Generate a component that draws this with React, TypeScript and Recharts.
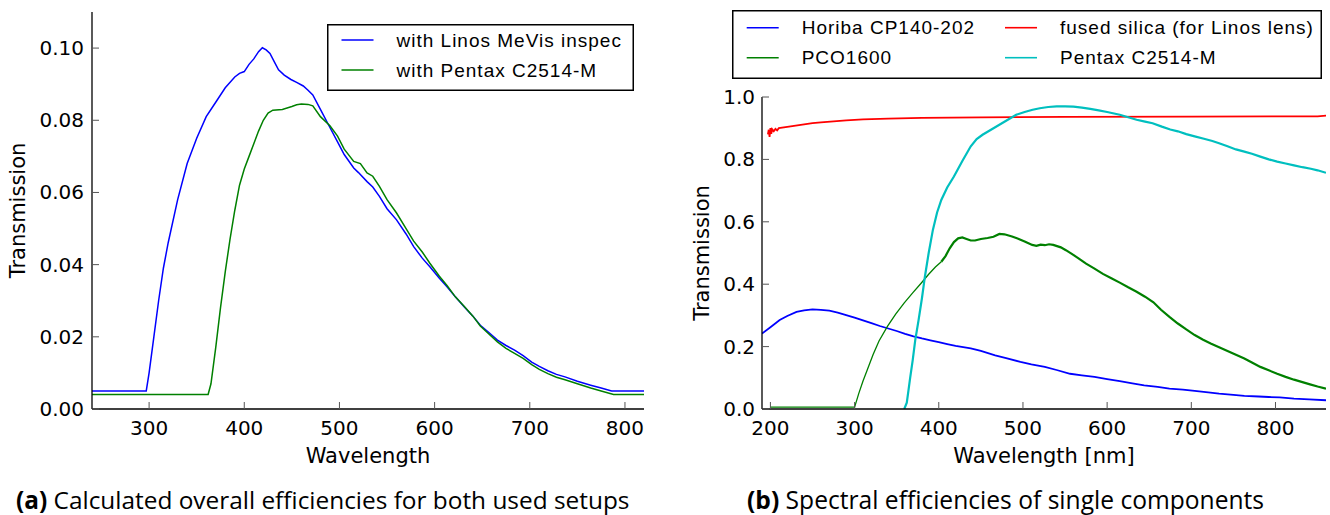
import React from 'react';
import { LineChart, Line, XAxis, YAxis, Legend } from 'recharts';

// ---------- tick labels ----------
const leftXTicks = [300, 400, 500, 600, 700, 800];
const leftYTicks = [0, 0.02, 0.04, 0.06, 0.08, 0.1];
const rightXTicks = [200, 300, 400, 500, 600, 700, 800];
const rightYTicks = [0, 0.2, 0.4, 0.6, 0.8, 1.0];

// ---------- (a) overall efficiencies ----------
const linosWl = [240, 297, 300, 305, 310, 315, 320, 330, 340, 350, 360, 370, 380, 390, 395, 400, 405, 410, 415, 419, 423, 427, 432, 436, 442, 449, 455, 462, 467, 472, 480, 490, 498, 505, 515, 520, 529, 535, 542, 550, 560, 570, 578, 587, 595, 605, 613, 622, 631, 640, 648, 657, 666, 675, 684, 693, 702, 710, 719, 728, 737, 750, 764, 775, 786, 820];
const linosT = [0.005, 0.005, 0.01, 0.02, 0.03, 0.039, 0.046, 0.058, 0.068, 0.075, 0.081, 0.085, 0.089, 0.092, 0.093, 0.0935, 0.0955, 0.097, 0.099, 0.1001, 0.0995, 0.0985, 0.096, 0.094, 0.0925, 0.0913, 0.0905, 0.0895, 0.0883, 0.087, 0.083, 0.078, 0.074, 0.0705, 0.0668, 0.0655, 0.063, 0.0615, 0.0589, 0.0555, 0.0524, 0.0485, 0.045, 0.0418, 0.0394, 0.0362, 0.0339, 0.031, 0.0283, 0.0258, 0.0232, 0.0212, 0.0191, 0.0176, 0.0163, 0.0148, 0.013, 0.0118, 0.0106, 0.0096, 0.0089, 0.0077, 0.0066, 0.0058, 0.005, 0.005];

const pentaxSetupWl = [240, 362, 365, 370, 375, 380, 385, 390, 395, 400, 405, 410, 415, 420, 425, 430, 440, 450, 455, 460, 467, 472, 480, 490, 498, 505, 515, 522, 529, 535, 542, 550, 560, 570, 578, 587, 595, 605, 613, 622, 631, 640, 648, 657, 666, 675, 684, 693, 702, 710, 719, 728, 737, 750, 764, 775, 788, 820];
const pentaxSetupT = [0.004, 0.004, 0.007, 0.017, 0.028, 0.038, 0.047, 0.055, 0.062, 0.0665, 0.07, 0.0735, 0.077, 0.08, 0.082, 0.0828, 0.083, 0.0838, 0.0843, 0.0845, 0.0844, 0.084, 0.081, 0.0785, 0.0756, 0.072, 0.0686, 0.068, 0.0654, 0.0645, 0.0617, 0.058, 0.0543, 0.05, 0.0465, 0.0435, 0.0404, 0.0368, 0.0342, 0.031, 0.0285, 0.0258, 0.023, 0.0208, 0.0186, 0.0168, 0.0154, 0.014, 0.0123, 0.011, 0.0098, 0.0088, 0.0081, 0.007, 0.0058, 0.005, 0.004, 0.004];

// ---------- (b) single components ----------
const horibaWl = [190, 200, 211, 220, 231, 240, 250, 260, 270, 280, 290, 300, 310, 320, 330, 340, 350, 360, 370, 380, 390, 400, 410, 420, 438, 450, 467, 480, 497, 510, 526, 540, 556, 570, 585, 600, 615, 630, 644, 660, 674, 690, 704, 720, 733, 750, 763, 780, 792, 805, 822, 840, 860];
const horibaT = [0.242, 0.262, 0.285, 0.298, 0.311, 0.316, 0.319, 0.318, 0.315, 0.309, 0.301, 0.293, 0.284, 0.275, 0.266, 0.258, 0.25, 0.241, 0.233, 0.226, 0.22, 0.214, 0.208, 0.202, 0.194, 0.186, 0.172, 0.163, 0.151, 0.143, 0.135, 0.125, 0.113, 0.108, 0.103, 0.096, 0.089, 0.082, 0.076, 0.071, 0.065, 0.062, 0.058, 0.053, 0.049, 0.045, 0.042, 0.04, 0.0385, 0.037, 0.033, 0.031, 0.028];

const silicaWl = [197, 198, 199, 200, 201, 202, 204, 206, 208, 210, 220, 230, 240, 250, 260, 275, 290, 310, 340, 380, 450, 550, 700, 850, 860];
const silicaT = [0.88, 0.895, 0.872, 0.9, 0.882, 0.897, 0.89, 0.898, 0.893, 0.9, 0.904, 0.908, 0.912, 0.916, 0.919, 0.922, 0.925, 0.928, 0.931, 0.933, 0.935, 0.936, 0.937, 0.938, 0.94];

// PCO1600: smooth (thin) UV part and measured (noisy, thicker) visible part
const pcoUvWl = [200, 300, 305, 310, 315, 322, 329, 339, 349, 359, 369, 379, 388, 396, 403];
const pcoUvT = [0.006, 0.006, 0.05, 0.09, 0.125, 0.175, 0.218, 0.265, 0.305, 0.34, 0.372, 0.403, 0.432, 0.455, 0.472];
const pcoVisWl = [403, 408, 413, 418, 423, 428, 433, 438, 443, 450, 458, 465, 472, 478, 487, 495, 502, 511, 516, 521, 526, 531, 536, 545, 551, 558, 566, 575, 585, 595, 605, 615, 625, 635, 645, 655, 664, 674, 684, 694, 704, 714, 723, 733, 743, 753, 763, 772, 782, 792, 802, 812, 822, 832, 841, 850, 860];
const pcoVisT = [0.472, 0.49, 0.515, 0.535, 0.547, 0.55, 0.545, 0.54, 0.54, 0.545, 0.548, 0.552, 0.561, 0.56, 0.553, 0.545, 0.537, 0.526, 0.523, 0.527, 0.525, 0.528, 0.526, 0.518, 0.509, 0.497, 0.483, 0.466, 0.45, 0.433, 0.419, 0.405, 0.39, 0.376, 0.36, 0.342, 0.318, 0.295, 0.274, 0.255, 0.237, 0.222, 0.21, 0.198, 0.186, 0.174, 0.162, 0.149, 0.135, 0.124, 0.113, 0.103, 0.094, 0.086, 0.079, 0.072, 0.065];

const pentaxWl = [359, 362, 364, 366, 369, 372, 376, 380, 383.5, 388, 393, 398, 403, 410, 418, 428, 438, 445, 452, 462, 472, 482, 492, 502, 511.5, 520, 530, 540, 550, 560, 570, 580, 590, 600, 615, 625, 635, 645, 654, 665, 675, 684, 694, 704, 715, 725, 733, 743, 753, 763, 772, 782, 792, 802, 812, 822, 832, 842, 850, 860];
const pentaxT = [0, 0.02, 0.06, 0.1, 0.156, 0.22, 0.285, 0.355, 0.424, 0.5, 0.574, 0.63, 0.67, 0.71, 0.745, 0.795, 0.842, 0.865, 0.879, 0.895, 0.911, 0.927, 0.943, 0.952, 0.959, 0.964, 0.968, 0.97, 0.97, 0.969, 0.966, 0.962, 0.957, 0.952, 0.943, 0.935, 0.927, 0.921, 0.916, 0.905, 0.896, 0.89, 0.881, 0.874, 0.866, 0.859, 0.852, 0.842, 0.832, 0.825, 0.818, 0.809, 0.8, 0.793, 0.787, 0.781, 0.775, 0.77, 0.765, 0.757];

const zip = (wl: number[], t: number[]) => wl.map((x, i) => ({ x, y: t[i] }));

const BLUE = '#0000ff';
const GREEN = '#008000';
const RED = '#ff0000';
const CYAN = '#00bfbf';

const leftSeries = [
  { name: 'with Linos MeVis inspec', color: BLUE, data: zip(linosWl, linosT) },
  { name: 'with Pentax C2514-M', color: GREEN, data: zip(pentaxSetupWl, pentaxSetupT) },
];
const rightLegend = [
  { name: 'Horiba CP140-202', color: BLUE },
  { name: 'fused silica (for Linos lens)', color: RED },
  { name: 'PCO1600', color: GREEN },
  { name: 'Pentax C2514-M', color: CYAN },
];
const rightSeries = [
  { key: 'horiba', color: BLUE, width: 1.8, data: zip(horibaWl, horibaT) },
  { key: 'silica', color: RED, width: 1.8, data: zip(silicaWl, silicaT) },
  { key: 'pcoUv', color: GREEN, width: 1.3, data: zip(pcoUvWl, pcoUvT) },
  { key: 'pcoVis', color: GREEN, width: 2.2, data: zip(pcoVisWl, pcoVisT) },
  { key: 'pentax', color: CYAN, width: 2.2, data: zip(pentaxWl, pentaxT) },
];

const AXIS_LINE = { stroke: '#000', strokeWidth: 1.3 };
const TICK_LINE = { stroke: '#555', strokeWidth: 1 };
const LEGEND_FONT = 'Liberation Sans, Arial, sans-serif';
const AXIS_FONT = 'DejaVu Sans';

// tick renderers
const xTick = (p: any) => (
  <text x={p.x} y={p.y} dy={15} textAnchor="middle" fontFamily={AXIS_FONT} fontSize={20} fill="#000">
    {String(p.payload.value)}
  </text>
);
const yTick = (digits: number) => (p: any) => (
  <text x={p.x} y={p.y} dy={7} textAnchor="end" fontFamily={AXIS_FONT} fontSize={20} fill="#000">
    {Number(p.payload.value).toFixed(digits)}
  </text>
);

type LegendItem = { name: string; color: string; col: number; row: number };

function LegendBox({ items, width, height, colX, rowY }: { items: LegendItem[]; width: number; height: number; colX: number[]; rowY: number[] }) {
  return (
    <svg width={width} height={height} style={{ display: 'block' }}>
      <rect x={0.75} y={0.75} width={width - 1.5} height={height - 1.5} fill="#fff" stroke="#000" strokeWidth={1.5} />
      {items.map((it) => {
        const x0 = colX[it.col];
        const y0 = rowY[it.row];
        return (
          <g key={it.name}>
            <line x1={x0} x2={x0 + 32} y1={y0} y2={y0} stroke={it.color} strokeWidth={1.6} />
            <text x={x0 + 55} y={y0} dominantBaseline="central" fontFamily={LEGEND_FONT} fontSize={19} letterSpacing={1} fill="#000">
              {it.name}
            </text>
          </g>
        );
      })}
    </svg>
  );
}

const yLabel = (dx: number, text: string) => (p: any) => {
  const vb = p.viewBox;
  const cx = vb.x + dx;
  const cy = vb.y + vb.height / 2;
  return (
    <text x={cx} y={cy} transform={`rotate(-90 ${cx} ${cy})`} textAnchor="middle" fontFamily={AXIS_FONT} fontSize={21} fill="#000">
      {text}
    </text>
  );
};

const xLabel = (dy: number, text: string) => (p: any) => {
  const vb = p.viewBox;
  return (
    <text x={vb.x + vb.width / 2} y={vb.y + dy} textAnchor="middle" fontFamily={AXIS_FONT} fontSize={21} fill="#000">
      {text}
    </text>
  );
};

export default function App() {
  return (
    <div style={{ position: 'absolute', left: 0, top: 0, width: 1330, height: 515, background: '#fff', overflow: 'hidden' }}>
      {/* (a) */}
      <div style={{ position: 'absolute', left: 0, top: 0 }}>
        <LineChart width={660} height={480} margin={{ top: 12, right: 16, left: 0, bottom: 0 }}>
          <XAxis xAxisId="b" type="number" dataKey="x" domain={[240, 820]} ticks={leftXTicks} interval={0} orientation="bottom" height={71}
            tickSize={-7} tickMargin={18} tick={xTick} axisLine={AXIS_LINE} tickLine={TICK_LINE} allowDataOverflow
            label={xLabel(53.5, 'Wavelength')} />
          <XAxis xAxisId="t" type="number" dataKey="x" domain={[240, 820]} ticks={leftXTicks} interval={0} orientation="top" height={0}
            tickSize={-7} tick={false} axisLine={AXIS_LINE} tickLine={TICK_LINE} allowDataOverflow />
          <YAxis yAxisId="l" type="number" domain={[0, 0.11]} ticks={leftYTicks} interval={0} width={92}
            tickSize={-7} tickMargin={15} tick={yTick(2)} axisLine={AXIS_LINE} tickLine={TICK_LINE} allowDataOverflow
            label={yLabel(25, 'Transmission')} />
          <YAxis yAxisId="r" type="number" orientation="right" domain={[0, 0.11]} ticks={leftYTicks} interval={0} width={0}
            tickSize={-7} tick={false} axisLine={AXIS_LINE} tickLine={TICK_LINE} allowDataOverflow />
          {leftSeries.map((s) => (
            <Line key={s.name} xAxisId="b" yAxisId="l" data={s.data} dataKey="y" name={s.name} stroke={s.color} strokeWidth={1.5}
              dot={false} type="linear" isAnimationActive={false} />
          ))}
          <Legend layout="horizontal" verticalAlign="middle" align="center"
            wrapperStyle={{ left: 327, top: 24, width: 307, height: 67 }}
            content={() => (
              <LegendBox width={307} height={67} colX={[14.5]} rowY={[16, 46]}
                items={leftSeries.map((s, i) => ({ name: s.name, color: s.color, col: 0, row: i }))} />
            )} />
        </LineChart>
      </div>

      {/* (b) */}
      <div style={{ position: 'absolute', left: 680, top: 0 }}>
        <LineChart width={650} height={480} margin={{ top: 97, right: 4, left: 0, bottom: 0 }}>
          <XAxis xAxisId="b" type="number" dataKey="x" domain={[190, 860]} ticks={rightXTicks} interval={0} orientation="bottom" height={71}
            tickSize={-7} tickMargin={18} tick={xTick} axisLine={AXIS_LINE} tickLine={TICK_LINE} allowDataOverflow
            label={xLabel(53.5, 'Wavelength [nm]')} />
          <XAxis xAxisId="t" type="number" dataKey="x" domain={[190, 860]} ticks={rightXTicks} interval={0} orientation="top" height={0}
            tickSize={-7} tick={false} axisLine={AXIS_LINE} tickLine={TICK_LINE} allowDataOverflow />
          <YAxis yAxisId="l" type="number" domain={[0, 1]} ticks={rightYTicks} interval={0} width={82}
            tickSize={-7} tickMargin={14} tick={yTick(1)} axisLine={AXIS_LINE} tickLine={TICK_LINE} allowDataOverflow
            label={yLabel(29, 'Transmission')} />
          <YAxis yAxisId="r" type="number" orientation="right" domain={[0, 1]} ticks={rightYTicks} interval={0} width={0}
            tickSize={-7} tick={false} axisLine={AXIS_LINE} tickLine={TICK_LINE} allowDataOverflow />
          {rightSeries.map((s) => (
            <Line key={s.key} xAxisId="b" yAxisId="l" data={s.data} dataKey="y" name={s.key} stroke={s.color}
              strokeWidth={s.width} dot={false} type="linear" isAnimationActive={false} />
          ))}
          <Legend layout="horizontal" verticalAlign="middle" align="center"
            wrapperStyle={{ left: 52, top: 10, width: 590, height: 69 }}
            content={() => (
              <LegendBox width={590} height={69} colX={[14.7, 273]} rowY={[17.7, 47.7]}
                items={rightLegend.map((s, i) => ({ name: s.name, color: s.color, col: i % 2, row: Math.floor(i / 2) }))} />
            )} />
        </LineChart>
      </div>

      {/* captions */}
      <svg width={1330} height={515} style={{ position: 'absolute', left: 0, top: 0, pointerEvents: 'none' }}>
        <text x={16} y={509} fontFamily="Open Sans" fontSize={24.4} fill="#000">
          <tspan fontWeight="bold">(a)</tspan> Calculated overall efficiencies for both used setups
        </text>
        <text x={747} y={509} fontFamily="Open Sans" fontSize={24.6} fill="#000">
          <tspan fontWeight="bold">(b)</tspan> Spectral efficiencies of single components
        </text>
      </svg>
    </div>
  );
}
